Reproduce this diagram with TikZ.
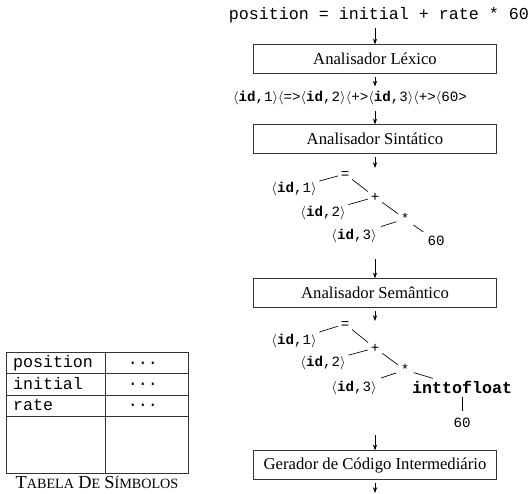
\documentclass[tikz,border=0pt]{standalone}
\usepackage{fontspec}
\setmainfont{Liberation Serif}
\setmonofont{Liberation Mono}
\usetikzlibrary{arrows.meta}
\newcommand\idtok[1]{$\langle$\textbf{id},#1$\rangle$}
\newcommand\fakesc[2]{{\fontsize{11}{11}\selectfont #1}{\fontsize{8.5}{8.5}\selectfont #2}}
\begin{document}
\begin{tikzpicture}[x=0.6pt,y=-0.6pt,
	phase/.style={draw=black!80, line width=0.6pt, minimum width=145.8pt, minimum height=17pt, inner sep=0pt, font=\fontsize{10}{12}\selectfont},
	code/.style={inner sep=1pt, font=\ttfamily\fontsize{10}{12}\selectfont},
	leaf/.style={inner sep=1.5pt, text height=1.6ex, text depth=.4ex, font=\ttfamily\fontsize{8.5}{10}\selectfont},
	flow/.style={-{Stealth[length=3.5pt,width=2.6pt]}, line width=0.5pt, shorten <=2pt},
	branch/.style={line width=0.4pt, shorten <=1pt, shorten >=1pt}]
	\useasboundingbox (0,0) rectangle (531,493);
	% phases
	\node [code] (src) at (379,15) {position = initial + rate * 60};
	\node [phase] (lex) at (375,59) {Analisador Léxico};
	\node [leaf] (tokens) at (350,97) {\idtok{1}$\langle$=>\idtok{2}$\langle$+>\idtok{3}$\langle$+>$\langle$60>};
	\node [phase] (syn) at (375,139) {Analisador Sintático};
	\node [phase] (sem) at (375,293) {Analisador Semântico};
	\node [phase] (gen) at (375,465) {Gerador de Código Intermediário};
	\coordinate (t1in) at (375,168);
	\coordinate (t1out) at (375,256);
	\coordinate (t2in) at (375,321);
	\coordinate (t2out) at (375,432);
	\coordinate (genout) at (375,493);
	\draw [flow] (src.south -| lex) -- (lex);
	\draw [flow] (lex) -- (lex.south |- tokens.north);
	\draw [flow] (tokens.south -| syn) -- (syn);
	\draw [flow] (syn) -- (t1in);
	\draw [flow] (t1out) -- (sem);
	\draw [flow] (sem) -- (t2in);
	\draw [flow] (t2out) -- (gen);
	\draw [flow] (gen) -- (genout);
	% syntax tree
	\node [leaf] (eq1) at (345,174) {=};
	\node [leaf] (id11) at (294,188) {\idtok{1}};
	\node [leaf] (plus1) at (375,197) {+};
	\node [leaf] (id12) at (323,212) {\idtok{2}};
	\node [leaf] (star1) at (405,219) {*};
	\node [leaf] (id13) at (354,235) {\idtok{3}};
	\node [leaf] (num1) at (436,241) {60};
	\draw [branch] (id11) -- (eq1) -- (plus1) -- (star1) -- (num1);
	\draw [branch] (id12) -- (plus1) (id13) -- (star1);
	% semantic tree
	\node [leaf] (eq2) at (345,324) {=};
	\node [leaf] (id21) at (294,340) {\idtok{1}};
	\node [leaf] (plus2) at (375,348) {+};
	\node [leaf] (id22) at (323,362) {\idtok{2}};
	\node [leaf] (star2) at (405,370) {*};
	\node [leaf] (id23) at (354,387) {\idtok{3}};
	\node [code] (conv) at (462,387) {\textbf{inttofloat}};
	\node [leaf] (num2) at (462,423) {60};
	\draw [branch] (id21) -- (eq2) -- (plus2) -- (star2) -- (conv);
	\draw [branch] (id22) -- (plus2) (id23) -- (star2);
	\draw [branch] (conv) -- (num2);
	% symbol table
	\draw [line width=0.6pt, draw=black!80] (6,352) rectangle (188,473);
	\draw [line width=0.6pt, draw=black!80] (105,352) -- (105,473) (6,373.5) -- (188,373.5) (6,395) -- (188,395) (6,416.5) -- (188,416.5);
	\node [code, anchor=west] (sym1) at (11,363) {position};
	\node [code, anchor=west] (sym2) at (11,384) {initial};
	\node [code, anchor=west] (sym3) at (11,405.5) {rate};
	\node [code] (attr1) at (143,363) {...};
	\node [code] (attr2) at (143,384) {...};
	\node [code] (attr3) at (143,405.5) {...};
	\node [inner sep=0pt] (tabcap) at (97,482) {\fakesc{T}{ABELA} \fakesc{D}{E} \fakesc{S}{ÍMBOLOS}};
\end{tikzpicture}
\end{document}
